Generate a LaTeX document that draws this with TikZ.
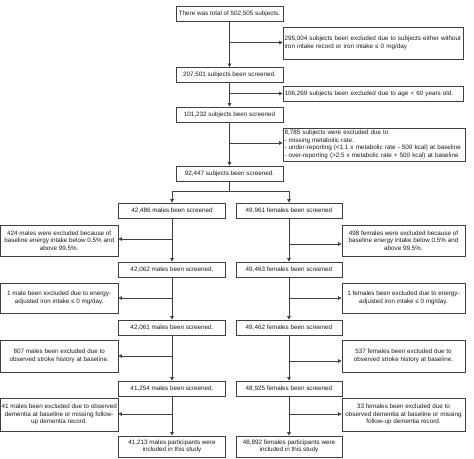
\documentclass[tikz,border=0pt]{standalone}
\usepackage{fontspec}
\setmainfont{Liberation Sans}
\usetikzlibrary{arrows.meta}
\newcommand\mkl[2]{\makebox[#1][c]{#2}}
\tikzset{
  every node/.style={font=\fontsize{6.3}{7.7}\selectfont, text=black!90},
  box/.style={draw=black!75, line width=0.7pt, inner sep=0pt, fill=white},
  lbox/.style={box, align=left, inner xsep=1.5pt},
  cbox/.style={box, align=center},
  conn/.style={draw=black!75, line width=0.7pt},
  arr/.style={conn, -{Triangle[length=3.6pt,width=3.6pt]}},
}
\begin{document}
\begin{tikzpicture}[x=1pt,y=-1pt]
\useasboundingbox[fill=white] (0,0) rectangle (474,458);
% main chain
\node[cbox, minimum width=107, minimum height=15] (t0) at (229.5,13.5) {There was total of 502,505 subjects.};
\node[lbox, minimum width=180, minimum height=32, text width=177] (e1) at (373,43) {295,004 subjects been excluded due to subjects either without\\iron intake record or iron intake ≤ 0 mg/day};
\node[cbox, minimum width=107, minimum height=15] (t1) at (229.5,75) {207,501 subjects been screened.};
\node[lbox, minimum width=180, minimum height=15, text width=177] (e2) at (373,93.5) {106,269 subjects been excluded due to age < 60 years old.};
\node[cbox, minimum width=107, minimum height=15] (t2) at (229.5,114.5) {101,232 subjects been screened};
\node[lbox, minimum width=182, minimum height=33, text width=179] (e3) at (374,144.5) {8,785 subjects were excluded due to:\\
 - missing metabolic rate.\\
 - under-reporting (<1.1 x metabolic rate - 500 kcal) at baseline\\
 - over-reporting (>2.5 x metabolic rate + 500 kcal) at baseline};
\node[cbox, minimum width=107, minimum height=15] (t3) at (229.5,173.5) {92,447 subjects been screened.};
\coordinate (split) at (229.5,191);
% male / female columns
\node[cbox, minimum width=107, minimum height=15] (m1) at (172,210.5) {42,486 males been screened};
\node[cbox, minimum width=106, minimum height=15] (f1) at (289,210.5) {49,961 females been screened};
\node[cbox, minimum width=107, minimum height=15] (m2) at (172,269.5) {42,062 males been screened.};
\node[cbox, minimum width=106, minimum height=15] (f2) at (289,269.5) {49,463 females been screened};
\node[cbox, minimum width=107, minimum height=15] (m3) at (172,327.5) {42,061 males been screened.};
\node[cbox, minimum width=106, minimum height=15] (f3) at (289,327.5) {49,462 females been screened};
\node[cbox, minimum width=107, minimum height=15] (m4) at (172,388.5) {41,254 males been screened.};
\node[cbox, minimum width=106, minimum height=15] (f4) at (289,388.5) {48,925 females been screened};
\node[cbox, minimum width=107, minimum height=21] (m5) at (172,446.5) {\mkl{100pt}{41,213 males participants were}\\\mkl{100pt}{included in this study}};
\node[cbox, minimum width=106, minimum height=21] (f5) at (289,446.5) {\mkl{100pt}{48,892 females participants were}\\\mkl{100pt}{included in this study}};
% side boxes
\node[cbox, minimum width=117.5, minimum height=31] (l1) at (59.25,240.5) {\mkl{112pt}{424 males were excluded because of}\\\mkl{112pt}{baseline energy intake below 0.5\% and}\\\mkl{112pt}{above 99.5\%.}};
\node[cbox, minimum width=123, minimum height=31] (r1) at (403.5,240.5) {\mkl{117pt}{498 females were excluded because of}\\\mkl{117pt}{baseline energy intake below 0.5\% and}\\\mkl{117pt}{above 99.5\%.}};
\node[cbox, minimum width=117.5, minimum height=30] (l2) at (59.25,298) {\mkl{112pt}{1 male been excluded due to energy-}\\\mkl{112pt}{adjusted iron intake ≤ 0 mg/day.}};
\node[cbox, minimum width=123, minimum height=30] (r2) at (403.5,298) {\mkl{117pt}{1 females been excluded due to energy-}\\\mkl{117pt}{adjusted iron intake ≤ 0 mg/day.}};
\node[cbox, minimum width=117.5, minimum height=32] (l3) at (59.25,356) {\mkl{112pt}{807 males been excluded due to}\\\mkl{112pt}{observed stroke history at baseline.}};
\node[cbox, minimum width=123, minimum height=32] (r3) at (403.5,356) {\mkl{117pt}{537 females been excluded due to}\\\mkl{117pt}{observed stroke history at baseline.}};
\node[cbox, minimum width=117.5, minimum height=33] (l4) at (59.25,414.5) {\mkl{112pt}{41 males been excluded due to observed}\\\mkl{112pt}{dementia at baseline or missing follow-}\\\mkl{112pt}{up dementia record.}};
\node[cbox, minimum width=123, minimum height=33] (r4) at (403.5,414.5) {\mkl{117pt}{33 females been excluded due to}\\\mkl{117pt}{observed dementia at baseline or missing}\\\mkl{117pt}{follow-up dementia record.}};
% arrow rows
\coordinate (ya1) at (0,42.5);
\coordinate (ya2) at (0,93.5);
\coordinate (ya3) at (0,143);
\coordinate (yl1) at (0,239);
\coordinate (yr1) at (0,244);
\coordinate (yl2) at (0,298);
\coordinate (yr2) at (0,298);
\coordinate (yl3) at (0,356);
\coordinate (yr3) at (0,361);
\coordinate (yl4) at (0,414);
\coordinate (yr4) at (0,414);
% main chain connectors
\draw[arr] (t0.south) -- (t1.north);
\draw[arr] (t1.south) -- (t2.north);
\draw[arr] (t2.south) -- (t3.north);
\draw[arr] (t0.south |- ya1) -- (e1.west |- ya1);
\draw[arr] (t1.south |- ya2) -- (e2.west |- ya2);
\draw[arr] (t2.south |- ya3) -- (e3.west |- ya3);
\draw[conn] (t3.south) -- (split);
\draw[conn] (split -| m1.north) -- (split -| f1.north);
\draw[arr] (split -| m1.north) -- (m1.north);
\draw[arr] (split -| f1.north) -- (f1.north);
% columns
\draw[arr] (m1.south) -- (m2.north);
\draw[arr] (m2.south) -- (m3.north);
\draw[arr] (m3.south) -- (m4.north);
\draw[arr] (m4.south) -- (m5.north);
\draw[arr] (f1.south) -- (f2.north);
\draw[arr] (f2.south) -- (f3.north);
\draw[arr] (f3.south) -- (f4.north);
\draw[arr] (f4.south) -- (f5.north);
\draw[arr] (m1.south |- yl1) -- (l1.east |- yl1);
\draw[arr] (m2.south |- yl2) -- (l2.east |- yl2);
\draw[arr] (m3.south |- yl3) -- (l3.east |- yl3);
\draw[arr] (m4.south |- yl4) -- (l4.east |- yl4);
\draw[arr] (f1.south |- yr1) -- (r1.west |- yr1);
\draw[arr] (f2.south |- yr2) -- (r2.west |- yr2);
\draw[arr] (f3.south |- yr3) -- (r3.west |- yr3);
\draw[arr] (f4.south |- yr4) -- (r4.west |- yr4);
\end{tikzpicture}
\end{document}
